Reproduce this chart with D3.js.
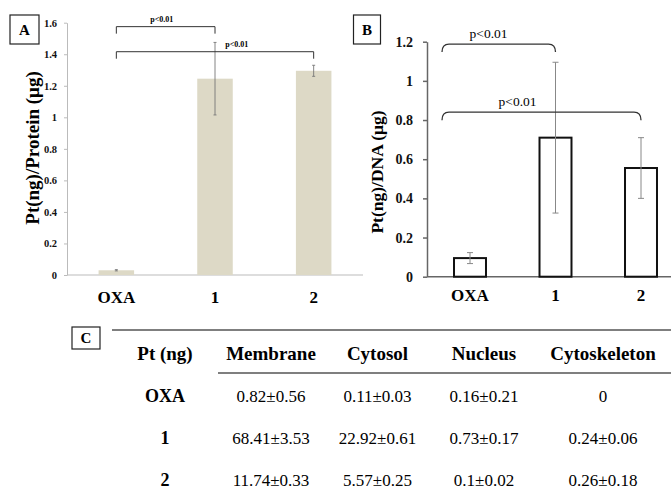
<!DOCTYPE html>
<html>
<head>
<meta charset="utf-8">
<script src="https://cdn.jsdelivr.net/npm/d3@7"></script>
<style>
  body { margin: 0; background: #fff; }
  svg { display: block; font-family: "Liberation Serif", "Times New Roman", serif; }
</style>
</head>
<body>
<svg id="fig" width="671" height="498"></svg>
<script>
// panel data
const categories = ["OXA", "1", "2"];
const proteinMean = [0.03, 1.245, 1.295];
const proteinErr = [0.004, 0.23, 0.035];
const dnaMean = [0.095, 0.71, 0.555];
const dnaErr = [0.028, 0.385, 0.155];
const proteinTicks = [0, 0.2, 0.4, 0.6, 0.8, 1, 1.2, 1.4, 1.6];
const dnaTicks = [0, 0.2, 0.4, 0.6, 0.8, 1, 1.2];
const sigPairs = [["OXA", "1"], ["OXA", "2"]];
const sigLabel = "p<0.01";

// table C
const tableHeader = ["Pt (ng)", "Membrane", "Cytosol", "Nucleus", "Cytoskeleton"];
const tableRows = ["OXA", "1", "2"];
const membrane = ["0.82±0.56", "68.41±3.53", "11.74±0.33"];
const cytosol = ["0.11±0.03", "22.92±0.61", "5.57±0.25"];
const nucleus = ["0.16±0.21", "0.73±0.17", "0.1±0.02"];
const cytoskeleton = ["0", "0.24±0.06", "0.26±0.18"];

const svg = d3.select("#fig");

function panelBox(x, y, w, h, label, size) {
  svg.append("rect").attr("x", x).attr("y", y).attr("width", w).attr("height", h)
    .attr("fill", "#fff").attr("stroke", "#222").attr("stroke-width", 1.2);
  svg.append("text").attr("x", x + w / 2).attr("y", y + h / 2)
    .attr("text-anchor", "middle").attr("dominant-baseline", "central")
    .attr("font-weight", "bold").attr("font-size", size).text(label);
}

// ---------- Panel A ----------
const xA = d3.scaleBand().domain(categories).range([67, 363]).paddingInner(0.64).paddingOuter(0.32);
const yA = d3.scaleLinear().domain([0, 1.6]).range([275, 22.7]);

const axA = svg.append("g").attr("transform", "translate(67,0)")
  .call(d3.axisLeft(yA).tickValues(proteinTicks).tickSize(3).tickSizeOuter(0).tickPadding(7)
    .tickFormat(d3.format("~g")))
  .attr("font-family", null);
axA.selectAll("path,line").attr("stroke", "#bbb");
axA.selectAll("text").attr("font-size", 10.5).attr("font-weight", "bold").attr("fill", "#111");

svg.append("line").attr("x1", 67).attr("x2", 363).attr("y1", yA(0)).attr("y2", yA(0))
  .attr("stroke", "#bbb");

svg.selectAll(".barA").data(categories).join("rect")
  .attr("x", d => xA(d)).attr("width", xA.bandwidth())
  .attr("y", (d, i) => yA(proteinMean[i]))
  .attr("height", (d, i) => yA(0) - yA(proteinMean[i]))
  .attr("fill", "#ddd9c6");

categories.forEach((c, i) => {
  const cx = xA(c) + xA.bandwidth() / 2;
  const hi = yA(proteinMean[i] + proteinErr[i]), lo = yA(proteinMean[i] - proteinErr[i]);
  const g = svg.append("g").attr("stroke", "#777").attr("stroke-width", 0.9);
  g.append("line").attr("x1", cx).attr("x2", cx).attr("y1", hi).attr("y2", lo);
  g.append("line").attr("x1", cx - 1.5).attr("x2", cx + 1.5).attr("y1", hi).attr("y2", hi);
  g.append("line").attr("x1", cx - 1.5).attr("x2", cx + 1.5).attr("y1", lo).attr("y2", lo);
});

svg.selectAll(".xlabA").data(categories).join("text")
  .attr("x", d => xA(d) + xA.bandwidth() / 2).attr("y", 303)
  .attr("text-anchor", "middle").attr("font-weight", "bold").attr("font-size", 17).text(d => d);

svg.append("text").attr("transform", "translate(32,148) rotate(-90)")
  .attr("text-anchor", "middle").attr("dominant-baseline", "central")
  .attr("font-weight", "bold").attr("font-size", 19).text("Pt(ng)/Protein (μg)");

// square brackets
const bracketA = [{ v: 1.575, t: 0.46 }, { v: 1.416, t: 0.61 }];
sigPairs.forEach((p, i) => {
  const x1 = xA(p[0]) + xA.bandwidth() / 2, x2 = xA(p[1]) + xA.bandwidth() / 2;
  const y = yA(bracketA[i].v);
  svg.append("path").attr("d", `M${x1},${y + 7}V${y}H${x2}V${y + 7}`)
    .attr("fill", "none").attr("stroke", "#333").attr("stroke-width", 1);
  svg.append("text").attr("x", x1 + (x2 - x1) * bracketA[i].t).attr("y", y - 5)
    .attr("text-anchor", "middle").attr("font-weight", "bold").attr("font-size", 8).text(sigLabel);
});

panelBox(10, 15, 29, 29, "A", 15);

// ---------- Panel B ----------
const xB = d3.scaleBand().domain(categories).range([427.25, 683.75]).paddingInner(0.626).paddingOuter(0.313);
const yB = d3.scaleLinear().domain([0, 1.2]).range([276.7, 41.7]);

const axB = svg.append("g").attr("transform", "translate(427,0)")
  .call(d3.axisLeft(yB).tickValues(dnaTicks).tickSize(4).tickSizeOuter(0).tickPadding(10)
    .tickFormat(d3.format("~g")))
  .attr("font-family", null);
axB.selectAll("path,line").attr("stroke", "#666").attr("stroke-width", 1.5);
axB.selectAll("text").attr("font-size", 14).attr("font-weight", "bold").attr("fill", "#111");

svg.append("line").attr("x1", 427).attr("x2", 671).attr("y1", yB(0)).attr("y2", yB(0))
  .attr("stroke", "#666").attr("stroke-width", 1.5);

svg.selectAll(".barB").data(categories).join("rect")
  .attr("x", d => xB(d)).attr("width", xB.bandwidth())
  .attr("y", (d, i) => yB(dnaMean[i]))
  .attr("height", (d, i) => yB(0) - yB(dnaMean[i]))
  .attr("fill", "#fff").attr("stroke", "#111").attr("stroke-width", 2);

categories.forEach((c, i) => {
  const cx = xB(c) + xB.bandwidth() / 2;
  const hi = yB(dnaMean[i] + dnaErr[i]), lo = yB(dnaMean[i] - dnaErr[i]);
  const g = svg.append("g").attr("stroke", "#888").attr("stroke-width", 1);
  g.append("line").attr("x1", cx).attr("x2", cx).attr("y1", hi).attr("y2", lo);
  g.append("line").attr("x1", cx - 3).attr("x2", cx + 3).attr("y1", hi).attr("y2", hi);
  g.append("line").attr("x1", cx - 3).attr("x2", cx + 3).attr("y1", lo).attr("y2", lo);
});

svg.selectAll(".xlabB").data(categories).join("text")
  .attr("x", d => xB(d) + xB.bandwidth() / 2).attr("y", 301)
  .attr("text-anchor", "middle").attr("font-weight", "bold").attr("font-size", 17).text(d => d);

svg.append("text").attr("transform", "translate(377,172) rotate(-90)")
  .attr("text-anchor", "middle").attr("dominant-baseline", "central")
  .attr("font-weight", "bold").attr("font-size", 17.5).text("Pt(ng)/DNA (μg)");

// rounded brackets
const bracketB = [{ v: 1.188, t: 0.41 }, { v: 0.84, t: 0.38 }];
sigPairs.forEach((p, i) => {
  const x1 = xB(p[0]) + xB.bandwidth() / 2 - 28, x2 = xB(p[1]) + xB.bandwidth() / 2;
  const y = yB(bracketB[i].v);
  svg.append("path")
    .attr("d", `M${x1},${y + 8}Q${x1},${y} ${x1 + 7},${y}H${x2 - 7}Q${x2},${y} ${x2},${y + 8}`)
    .attr("fill", "none").attr("stroke", "#333").attr("stroke-width", 1.3);
  svg.append("text").attr("x", x1 + (x2 - x1) * bracketB[i].t).attr("y", y - 6)
    .attr("text-anchor", "middle").attr("font-size", 13.5).text(sigLabel);
});

panelBox(353.5, 15, 27, 29, "B", 15);

// ---------- Table C ----------
const colX = [165, 271, 377.5, 484, 603];
const rowY = [402, 444, 486];
const columns = [membrane, cytosol, nucleus, cytoskeleton];

svg.append("line").attr("x1", 112).attr("x2", 671).attr("y1", 330).attr("y2", 330)
  .attr("stroke", "#555").attr("stroke-width", 1.5);
svg.append("line").attr("x1", 218).attr("x2", 671).attr("y1", 373).attr("y2", 373)
  .attr("stroke", "#555").attr("stroke-width", 1.5);

svg.selectAll(".thead").data(tableHeader).join("text")
  .attr("x", (d, i) => colX[i]).attr("y", 360)
  .attr("text-anchor", "middle").attr("font-weight", "bold").attr("font-size", 19).text(d => d);

svg.selectAll(".rowlab").data(tableRows).join("text")
  .attr("x", colX[0]).attr("y", (d, i) => rowY[i])
  .attr("text-anchor", "middle").attr("font-weight", "bold").attr("font-size", 18).text(d => d);

columns.forEach((col, j) => {
  svg.selectAll(".cell" + j).data(col).join("text")
    .attr("x", colX[j + 1]).attr("y", (d, i) => rowY[i])
    .attr("text-anchor", "middle").attr("font-size", 17).text(d => d);
});

panelBox(72, 327, 28, 22, "C", 15);
</script>
</body>
</html>
